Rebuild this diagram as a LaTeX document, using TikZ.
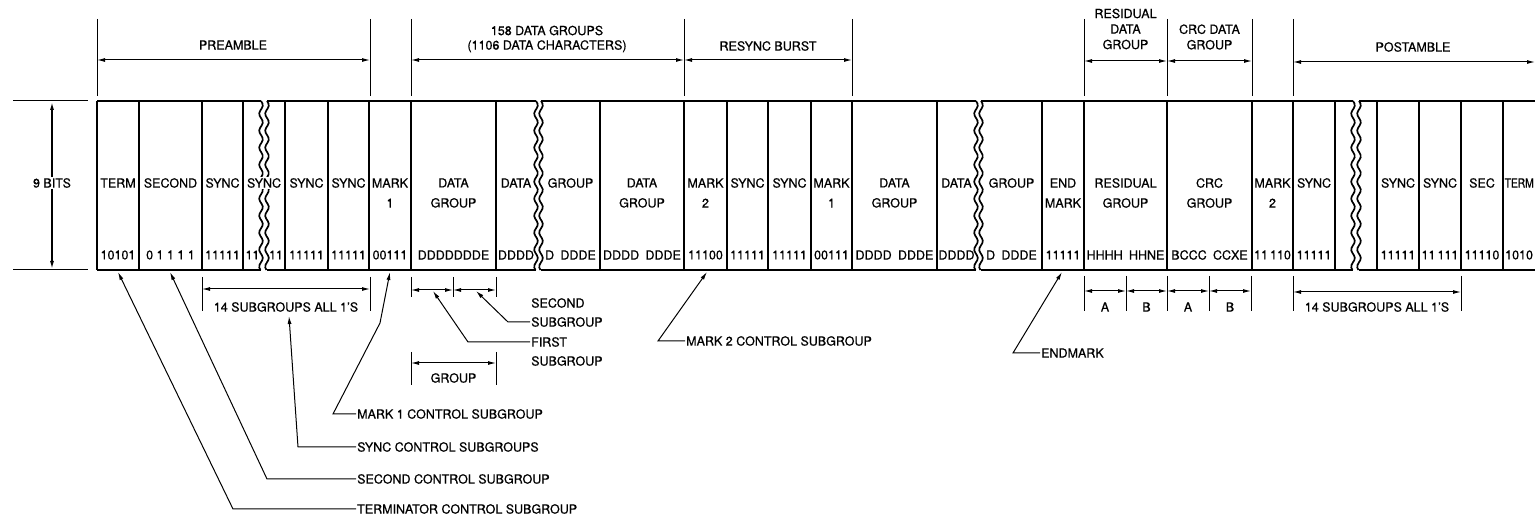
\documentclass[tikz,border=0pt]{standalone}
\usepackage{fontspec}
\usepackage{graphicx}
\setmainfont[FakeBold=0.6]{TeX Gyre Heros}
\usetikzlibrary{arrows.meta, positioning}

% wavy break line through the record
\newcommand{\wavyline}[1]{%
  \draw[boxline] plot[domain=101:270, samples=70, smooth, variable=\t]
    ({#1+1.8*sin((\t-101)*21.2)}, \t);}

\begin{document}
\begin{tikzpicture}[
  x=1pt, y=-1pt,
  font=\fontsize{12.5}{15}\selectfont,
  boxline/.style={line width=1.7pt},
  thin/.style={line width=1pt},
  dim/.style={thin, {Latex[length=8pt,width=4pt]}-{Latex[length=8pt,width=4pt]}},
  lead/.style={thin, -{Latex[length=8pt,width=4pt]}},
  lbl/.style={inner sep=1pt},
  twol/.style={inner sep=1pt, align=center, font=\fontsize{12.5}{20}\selectfont},
  hdr/.style={inner sep=1pt, align=center, font=\fontsize{12.5}{15}\selectfont},
]
\useasboundingbox (0,0) rectangle (1535,518);
\clip (0,0) rectangle (1535,518);

% record outline
\foreach \a/\b in {97/261, 267/536, 541/976, 981/1353, 1359/1545} {
  \draw[boxline] (\a,101) -- (\b,101);
  \draw[boxline] (\a,270) -- (\b,270);
}
\foreach \x in {97,139,202,243,285,328,369,411,496,600,684,727,768,811,852,
                937,1042,1084,1167,1252,1293,1335,1377,1419,1461,1503}
  \draw[boxline] (\x,101) -- (\x,270);
\foreach \w in {261,267,536,541,976,981,1353,1359} {\wavyline{\w}}

% subgroup names and bits
\foreach \x/\a/\c in {118/TERM/10101, 170.5/SECOND/0 1 1 1 1, 222.5/SYNC/11111,
    306.5/SYNC/11111, 348.5/SYNC/11111, 516/DATA/DDDD, 570.5/GROUP/D\enspace DDDE,
    747.5/SYNC/11111, 789.5/SYNC/11111, 956.5/DATA/DDDD,
    1011.5/GROUP/D\enspace DDDE, 1314/SYNC/11111, 1398/SYNC/11111,
    1440/SYNC/11\,111, 1482/SEC/11110} {
  \node[lbl] (n\x) at (\x,183) {\a};
  \node[lbl] (b\x) at (\x,255) {\c};
}
\foreach \x/\a/\c in {390/{MARK\\1}/00111, 453.5/{DATA\\GROUP}/DDDDDDDE,
    642/{DATA\\GROUP}/DDDD\enspace DDDE, 705.5/{MARK\\2}/11100,
    831.5/{MARK\\1}/00111, 894.5/{DATA\\GROUP}/DDDD\enspace DDDE,
    1063/{END\\MARK}/11111, 1125.5/{RESIDUAL\\GROUP}/HHHH\enspace HHNE,
    1209.5/{CRC\\GROUP}/BCCC\enspace CCXE, 1272.5/{MARK\\2}/11\,110} {
  \node[twol] (n\x) at (\x,193) {\a};
  \node[lbl] (b\x) at (\x,255) {\c};
}
\node[lbl, fill=white] (brksync) at (264,183) {SYNC};
\node[lbl] (brkl) at (252.5,255) {11};
\node[lbl] (brkr) at (276,255) {11};
\node[lbl, anchor=west] (tmend) at (1503.5,183) {\scalebox{0.82}[1]{TERM}};
\node[lbl, anchor=west] (tmbits) at (1504,255) {1010};

% 9 bits
\draw[thin] (13,101) -- (88,101);
\draw[thin] (13,270) -- (88,270);
\node[lbl] (nine) at (52,183) {9 BITS};
\coordinate (ninetop) at (52,102);
\coordinate (ninebot) at (52,269);
\draw[lead, line width=1.3pt] (nine.north) -- (ninetop);
\draw[lead, line width=1.3pt] (nine.south) -- (ninebot);

% upper dimensions
\foreach \x in {97,370,411,684,852,1084,1167,1252,1293}
  \draw[thin] (\x,19) -- (\x,96);
\node[hdr] (pre) at (233,45) {PREAMBLE};
\draw[dim] (97,60) -- (370,60);
\node[hdr, font=\fontsize{12.5}{14.5}\selectfont] (dgrp) at (547,39)
  {158 DATA GROUPS\\(1106 DATA CHARACTERS)};
\draw[dim] (411,60) -- (684,60);
\node[hdr] (rsb) at (768,46) {RESYNC BURST};
\draw[dim] (684,60) -- (852,60);
\node[hdr, font=\fontsize{12.5}{15.5}\selectfont] (resd) at (1125.5,29)
  {RESIDUAL\\DATA\\GROUP};
\node[hdr, font=\fontsize{12.5}{15.5}\selectfont] (crcd) at (1209.5,37)
  {CRC DATA\\GROUP};
\draw[dim] (1084,61) -- (1167,61);
\draw[dim] (1167,61) -- (1252,61);
\node[hdr] (post) at (1413,47) {POSTAMBLE};
\draw[dim] (1293,62) -- (1535,62);

% lower dimensions
\foreach \x in {202,370} \draw[thin] (\x,277) -- (\x,311);
\draw[dim] (202,289) -- (370,289);
\node[lbl] (all1a) at (286,307) {14 SUBGROUPS ALL 1'S};

\foreach \x in {411,453,496} \draw[thin] (\x,277) -- (\x,297);
\draw[dim] (411,290) -- (453,290);
\draw[dim] (453,290) -- (496,290);
\foreach \x in {411,496} \draw[thin] (\x,352) -- (\x,385);
\draw[dim] (411,363) -- (496,363);
\node[lbl] (grp) at (453.5,378) {GROUP};

\foreach \x in {1084,1126,1167,1209,1251} \draw[thin] (\x,276) -- (\x,311);
\foreach \a/\b/\t in {1084/1126/A, 1126/1167/B, 1167/1209/A, 1209/1251/B} {
  \draw[dim] (\a,291) -- (\b,291);
  \node[lbl] (ab\a) at ({(\a+\b)/2},307) {\t};
}
\foreach \x in {1293,1461} \draw[thin] (\x,276) -- (\x,311);
\draw[dim] (1293,292) -- (1461,292);
\node[lbl] (all1b) at (1377,307) {14 SUBGROUPS ALL 1'S};

% call-outs
\coordinate (secsgtip) at (476,291);
\coordinate (fstsgtip) at (433,291);
\coordinate (mk1tip) at (390,272);
\coordinate (synctip) at (289,316);
\coordinate (sectip) at (170,272);
\coordinate (termtip) at (118,272);
\coordinate (mk2tip) at (707,272);
\coordinate (endtip) at (1062,272);

\node[lbl, anchor=west] (secsg) at (530,303) {SECOND};
\node[lbl, anchor=west] (secsgb) at (530,322) {SUBGROUP};
\node[lbl, anchor=west] (fstsg) at (530,342) {FIRST};
\node[lbl, anchor=west] (fstsgb) at (530,361) {SUBGROUP};
\draw[lead] (secsgb.west) -- (508,322) -- (secsgtip);
\draw[lead] (fstsg.west) -- (468,342) -- (fstsgtip);

\node[lbl, anchor=west] (mk1) at (356,414) {MARK 1 CONTROL SUBGROUP};
\node[lbl, anchor=west] (sync) at (356,447) {SYNC CONTROL SUBGROUPS};
\node[lbl, anchor=west] (sec) at (356,479) {SECOND CONTROL SUBGROUP};
\node[lbl, anchor=west] (term) at (356,509) {TERMINATOR CONTROL SUBGROUP};
\draw[lead] (mk1.west) -- (333,414) -- (380,323) -- (mk1tip);
\draw[lead] (sync.west) -- (298,447) -- (synctip);
\draw[lead] (sec.west) -- (267,479) -- (sectip);
\draw[lead] (term.west) -- (233,509) -- (termtip);

\node[lbl, anchor=west] (mk2) at (685,341) {MARK 2 CONTROL SUBGROUP};
\draw[lead] (mk2.west) -- (658,341) -- (mk2tip);
\node[lbl, anchor=west] (endm) at (1040,353) {ENDMARK};
\draw[lead] (endm.west) -- (1013,353) -- (endtip);

\end{tikzpicture}
\end{document}
